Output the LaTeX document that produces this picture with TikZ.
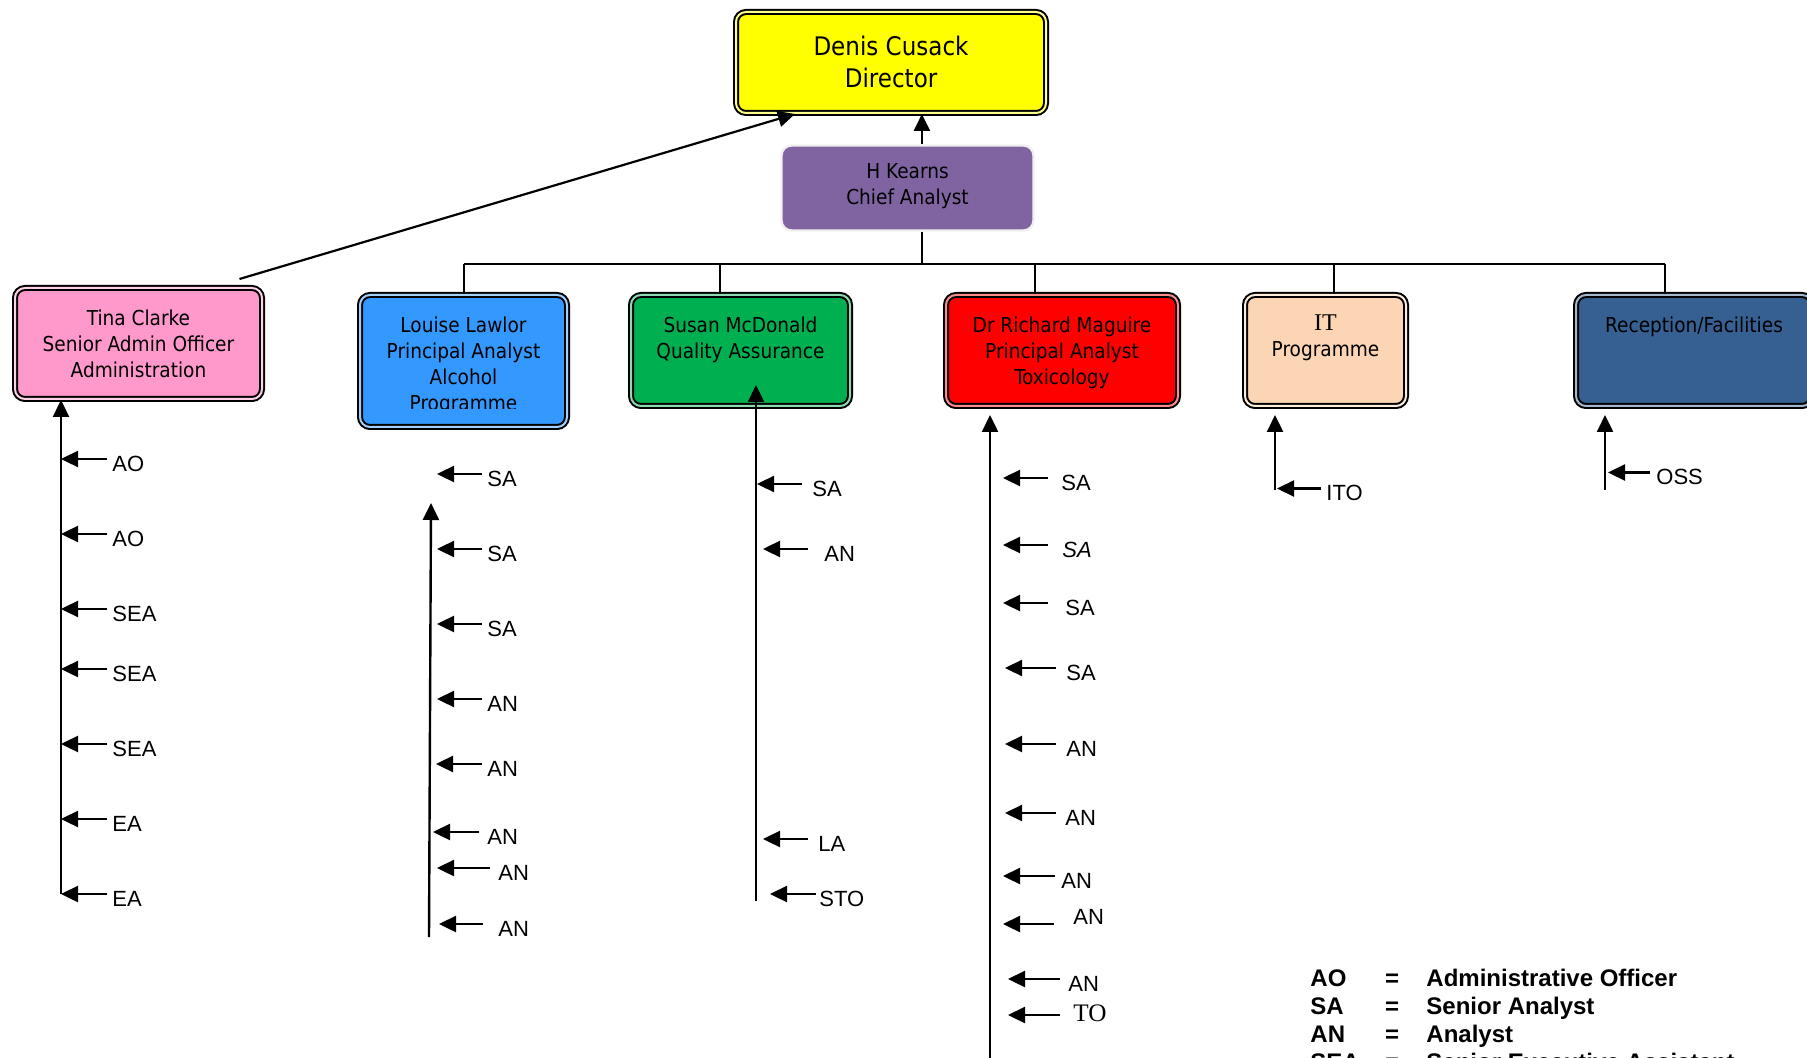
\documentclass[tikz,border=0pt]{standalone}
\usepackage{fontspec}
\setmainfont{Liberation Sans}
\newfontfamily\boxfont{DejaVu Sans Condensed}
\newfontfamily\romfont{Liberation Serif}
\usepackage{xcolor}
\usepackage{tikz}
\usetikzlibrary{positioning, arrows.meta}

\definecolor{dirYellow}{HTML}{FFFF00}
\definecolor{chiefPurple}{HTML}{8064A2}
\definecolor{adminPink}{HTML}{FF99CC}
\definecolor{alcBlue}{HTML}{3399FF}
\definecolor{qaGreen}{HTML}{00B050}
\definecolor{toxRed}{HTML}{FF0000}
\definecolor{itPeach}{HTML}{FCD5B4}
\definecolor{recBlue}{HTML}{366092}

\tikzset{
    unit/.style={draw=black, line width=1pt, double=#1!45!white, double distance=1pt, fill=#1, rounded corners=5pt},
    boxtxt/.style={font=\boxfont\fontsize{10.3}{13}\selectfont, align=center, inner sep=0pt},
    lbl/.style={font=\fontsize{11}{13}\selectfont, anchor=west, inner xsep=0.5pt, inner ysep=0pt, text height=12pt, text depth=0pt},
    arr/.style={line width=1.2pt, -{Triangle[length=8.5pt,width=8pt]}},
    bus/.style={line width=0.8pt},
    leg/.style={font=\bfseries\fontsize{12}{14}\selectfont, inner sep=0pt}
}

\begin{document}
\begin{tikzpicture}[x=0.5pt, y=-0.5pt]
    \useasboundingbox (0,0) rectangle (1807,1058);
    % Director y analista jefe
    \node[unit=dirYellow, minimum width=155pt, minimum height=50.5pt] (dir) at (891,62.5) {};
    \node[boxtxt, font=\boxfont\fontsize{12.8}{16}\selectfont, below=12.5pt of dir.north] (dirtxt) {Denis Cusack\\Director};
    \node[fill=chiefPurple, draw=black!6, line width=1.2pt, rounded corners=5pt, minimum width=126pt, minimum height=42.5pt] (chief) at (907.5,188) {};
    \node[boxtxt, below=9.5pt of chief.north] (chieftxt) {H Kearns\\Chief Analyst};

    % Cajas de las secciones
    \node[unit=adminPink, minimum width=123.5pt, minimum height=55.5pt] (tina) at (138.5,343.5) {};
    \node[unit=alcBlue, minimum width=103.5pt, minimum height=66pt] (louise) at (463.5,361) {};
    \node[unit=qaGreen, minimum width=109.5pt, minimum height=55.5pt] (susan) at (740.5,350.5) {};
    \node[unit=toxRed, minimum width=116pt, minimum height=55.5pt] (richard) at (1062,350.5) {};
    \node[unit=itPeach, minimum width=80.5pt, minimum height=55.5pt] (it) at (1325.5,350.5) {};
    \node[unit=recBlue, minimum width=118pt, minimum height=55.5pt] (recep) at (1694,350.5) {};

    \node[boxtxt, below=11pt of tina.north] (tinatxt) {Tina Clarke\\Senior Admin Officer\\Administration};
    \begin{scope}
        \clip (louise.north west) rectangle ([yshift=9.5pt]louise.south east);
        \node[boxtxt, below=11pt of louise.north] (louisetxt) {Louise Lawlor\\Principal Analyst\\Alcohol\\Programme};
    \end{scope}
    \node[boxtxt, below=11pt of susan.north] (susantxt) {Susan McDonald\\Quality Assurance};
    \node[boxtxt, below=11pt of richard.north] (richardtxt) {Dr Richard Maguire\\Principal Analyst\\Toxicology};
    \node[boxtxt, below=10pt of it.north] (ittxt) {{\romfont\fontsize{12}{13}\selectfont IT}\\Programme};
    \node[boxtxt, below=11pt of recep.north] (receptxt) {Reception/Facilities};

    % Conexiones con el director
    \draw[arr] ([xshift=7.2pt]chief.north) -- ([xshift=7.2pt]chief.north |- dir.south);
    \draw[arr, line width=1.1pt] ([xshift=50.5pt,yshift=4pt]tina.north) -- ([xshift=-48pt]dir.south);

    % Linea horizontal bajo el analista jefe
    \coordinate (busL) at (464,264);
    \coordinate (busR) at (1665,264);
    \draw[bus] (busL) -- (busR);
    \draw[bus] ([xshift=7.2pt]chief.south) -- ([xshift=7.2pt]chief.south |- busL);
    \foreach \x/\b in {464/louise, 720/susan, 1035/richard, 1334/it, 1665/recep} {
        \coordinate (drop\b) at (\x,264);
        \draw[bus] (drop\b) -- (drop\b |- \b.north);
    }

    % Administracion
    \coordinate (tinabot) at (61,894);
    \draw[arr] (tinabot) -- (tinabot |- tina.south);
    \foreach \y/\t [count=\i] in {459/AO, 534/AO, 609/SEA, 669/SEA, 744/SEA, 819/EA, 894/EA} {
        \node[lbl] (ta\i) at (111,\y) {\t};
        \draw[arr] (ta\i.west) ++(-4,0) -- (ta\i.west -| tinabot);
    }

    % Alcohol
    \coordinate (lbot) at (429,937);
    \coordinate (ltop) at (431,503);
    \draw[arr] (lbot) -- (ltop);
    \foreach \y/\tx/\ax/\lx/\t [count=\i] in {474/437/482/486/SA, 549/437/482/486/SA, 624/437/482/486/SA, 699/437/482/486/AN,
        764/436/482/486/AN, 832/433/479/486/AN, 868/437/490/497/AN, 924/439/483/497/AN} {
        \node[lbl] (la\i) at (\lx,\y) {\t};
        \coordinate (lt\i) at (\tx,\y);
        \draw[arr] (la\i.west) ++(\ax-\lx,0) -- (lt\i);
    }

    % Calidad
    \coordinate (sbot) at (756,901);
    \coordinate (stop) at (756,385);
    \draw[arr] (sbot) -- (stop);
    \foreach \y/\tx/\ax/\lx/\t [count=\i] in {484/757/802/811/SA, 549/763/808/823/AN, 839/763/808/817/LA, 894/770/816/818/STO} {
        \node[lbl] (sa\i) at (\lx,\y) {\t};
        \coordinate (st\i) at (\tx,\y);
        \draw[arr] (sa\i.west) ++(\ax-\lx,0) -- (st\i);
    }

    % Toxicologia
    \coordinate (rbot) at (990,1062);
    \coordinate (rtop) at (990,415);
    \draw[arr] (rbot) -- (rtop);
    \foreach \y/\tx/\ax/\lx/\t [count=\i] in {478/1003/1048/1060/SA, 545/1003/1048/1061/{\itshape SA}, 603/1003/1048/1064/SA,
        668/1005/1056/1065/SA, 744/1005/1056/1065/AN, 813/1005/1056/1064/AN, 876/1003/1055/1060/AN, 979/1008/1060/1067/AN} {
        \node[lbl] (ra\i) at (\lx,\y) {\t};
        \coordinate (rt\i) at (\tx,\y);
        \draw[arr] (ra\i.west) ++(\ax-\lx,0) -- (rt\i);
    }
    \node[lbl] (ranx) at (1072,912) {AN};
    \coordinate (rtnx) at (1003,924);
    \draw[arr] (ranx.west) ++(-18,12) -- (rtnx);
    \node[lbl, font=\romfont\fontsize{12.6}{14}\selectfont] (rato) at (1072,1009) {TO};
    \coordinate (rtto) at (1008,1015);
    \draw[arr] (rato.west) ++(-12,6) -- (rtto);

    % IT y recepcion
    \coordinate (itbot) at (1275,490);
    \coordinate (ittop) at (1275,415);
    \draw[arr] (itbot) -- (ittop);
    \node[lbl] (ita) at (1325,488.5) {ITO};
    \coordinate (itt) at (1277,488.5);
    \draw[arr] (ita.west) ++(-4,0) -- (itt);
    \coordinate (recbot) at (1605,490);
    \coordinate (rectop) at (1605,415);
    \draw[arr] (recbot) -- (rectop);
    \node[lbl] (reca) at (1655,472.5) {OSS};
    \coordinate (rect) at (1608,472.5);
    \draw[arr] (reca.west) ++(-5,0) -- (rect);

    % Leyenda
    \foreach \a/\b [count=\i] in {AO/Administrative Officer, SA/Senior Analyst, AN/Analyst, SEA/Senior Executive Assistant} {
        \node[leg, anchor=base west] (ab\i) at (1310,958+28*\i) {\a};
        \node[leg, anchor=base] (eq\i) at (1392,958+28*\i) {=};
        \node[leg, anchor=base west] (ds\i) at (1426,958+28*\i) {\b};
    }
\end{tikzpicture}
\end{document}
